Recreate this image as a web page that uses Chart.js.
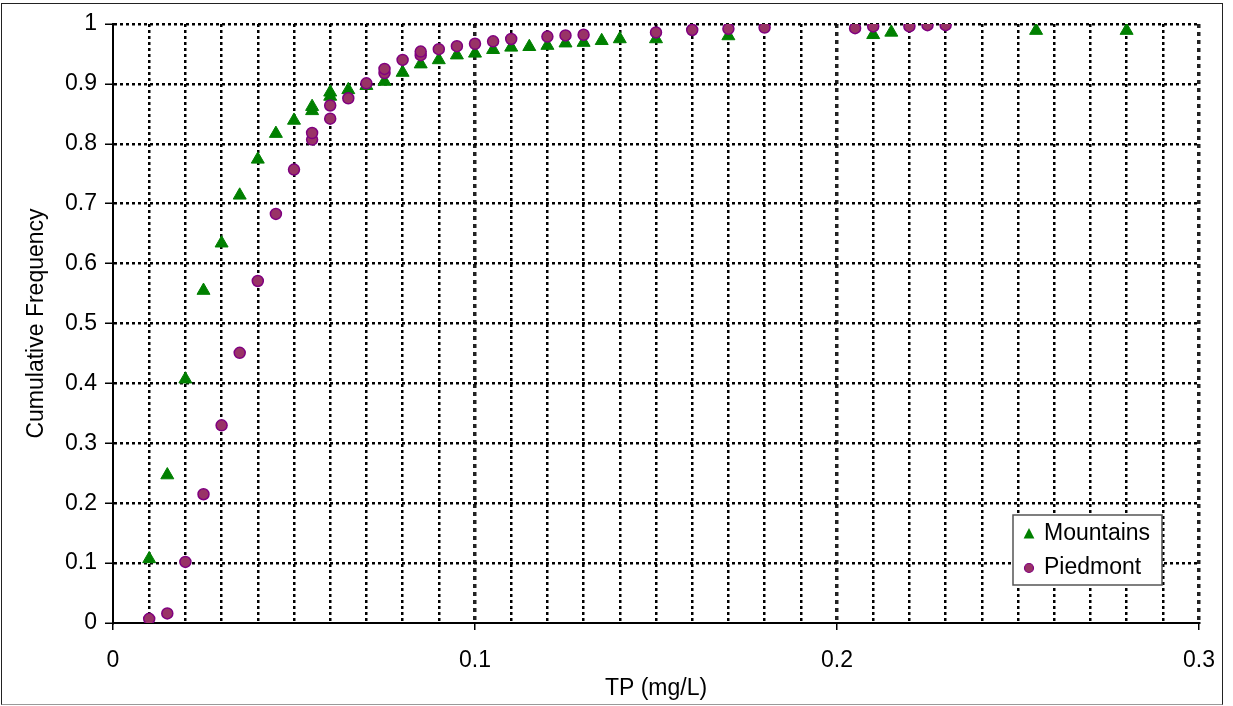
<!DOCTYPE html>
<html>
<head>
<meta charset="utf-8">
<script src="https://cdn.jsdelivr.net/npm/chart.js@4/dist/chart.umd.min.js"></script>
<style>
  body { margin: 0; background: #fff; }
  #wrap { position: relative; width: 1233px; height: 706px; }
  #frame { position: absolute; left: 1px; top: 3px; width: 1220px; height: 700px;
           border: 1px solid #222; border-bottom-color: #999; pointer-events: none; }
</style>
</head>
<body>
<div id="wrap">
  <canvas id="chart" width="1233" height="706"></canvas>
  <div id="frame"></div>
</div>
<script>
// Mountains sites
const mountainsTP = [0.01, 0.015, 0.02, 0.025, 0.03, 0.035, 0.04, 0.045, 0.05, 0.055, 0.055,
  0.06, 0.06, 0.065, 0.07, 0.075, 0.08, 0.085, 0.09, 0.095, 0.1, 0.105, 0.11, 0.115, 0.12,
  0.125, 0.13, 0.135, 0.14, 0.15, 0.17, 0.21, 0.215, 0.255, 0.28];
const mountainsFreq = [0.107, 0.247, 0.407, 0.555, 0.634, 0.714, 0.774, 0.817, 0.839, 0.855, 0.862,
  0.879, 0.886, 0.89, 0.897, 0.904, 0.919, 0.933, 0.94, 0.948, 0.951, 0.957, 0.961, 0.962, 0.964,
  0.968, 0.969, 0.972, 0.975, 0.975, 0.98, 0.982, 0.986, 0.989, 0.989];

// Piedmont sites
const piedmontTP = [0.01, 0.015, 0.02, 0.025, 0.03, 0.035, 0.04, 0.045, 0.05, 0.055, 0.055,
  0.06, 0.06, 0.065, 0.07, 0.075, 0.075, 0.08, 0.085, 0.085, 0.09, 0.095, 0.1, 0.105, 0.11,
  0.12, 0.125, 0.13, 0.15, 0.16, 0.17, 0.18, 0.205, 0.21, 0.22, 0.225, 0.23];
const piedmontFreq = [0.007, 0.016, 0.102, 0.215, 0.33, 0.451, 0.571, 0.683, 0.757, 0.807, 0.818,
  0.842, 0.864, 0.876, 0.901, 0.918, 0.925, 0.94, 0.948, 0.954, 0.958, 0.963, 0.967, 0.971, 0.975,
  0.979, 0.981, 0.982, 0.986, 0.99, 0.992, 0.994, 0.993, 0.996, 0.996, 0.998, 0.998];

const seriesNames = ['Mountains', 'Piedmont'];
const xTitle = 'TP (mg/L)';
const yTitle = 'Cumulative Frequency';

const toPoints = (xs, ys) => xs.map((x, i) => ({ x: x, y: ys[i] }));
const FONT = "'Liberation Sans', Arial, sans-serif";
const FSIZE = 23;

const isMajorX = v => Math.round(v * 100) % 10 === 0;
const tickVal = c => (c.tick ? c.tick.value : 0);

// legend box drawn inside the plot, bottom right
const insideLegend = {
  id: 'insideLegend',
  afterDraw(chart) {
    const { ctx, chartArea } = chart;
    const w = 149, h = 70;
    const x0 = chartArea.right - 37 - w;
    const y0 = chartArea.bottom - 38 - h;
    ctx.save();
    ctx.fillStyle = '#fff';
    ctx.fillRect(x0, y0, w, h);
    ctx.strokeStyle = '#555';
    ctx.lineWidth = 1.5;
    ctx.strokeRect(x0, y0, w, h);

    const rows = [y0 + 19, y0 + 53];
    // triangle
    const tx = x0 + 16, ty = rows[0], r = 6;
    ctx.fillStyle = '#008000';
    ctx.beginPath();
    ctx.moveTo(tx, ty - r);
    ctx.lineTo(tx + r * 0.9, ty + r * 0.75);
    ctx.lineTo(tx - r * 0.9, ty + r * 0.75);
    ctx.closePath();
    ctx.fill();
    // circle
    ctx.fillStyle = '#993366';
    ctx.strokeStyle = '#800080';
    ctx.lineWidth = 1.2;
    ctx.beginPath();
    ctx.arc(x0 + 16, rows[1], 4.5, 0, Math.PI * 2);
    ctx.fill();
    ctx.stroke();

    ctx.fillStyle = '#000';
    ctx.font = FSIZE + 'px ' + FONT;
    ctx.textBaseline = 'middle';
    ctx.textAlign = 'left';
    ctx.fillText(seriesNames[0], x0 + 31, rows[0]);
    ctx.fillText(seriesNames[1], x0 + 31, rows[1]);
    ctx.restore();
  }
};

new Chart(document.getElementById('chart'), {
  type: 'scatter',
  data: {
    datasets: [
      {
        label: seriesNames[0],
        data: toPoints(mountainsTP, mountainsFreq),
        pointStyle: 'triangle',
        pointRadius: 7.5,
        backgroundColor: '#008000',
        borderColor: '#008000',
        borderWidth: 1,
        order: 1
      },
      {
        label: seriesNames[1],
        data: toPoints(piedmontTP, piedmontFreq),
        pointStyle: 'circle',
        pointRadius: 5.5,
        backgroundColor: '#993366',
        borderColor: '#800080',
        borderWidth: 1.5,
        order: 0
      }
    ]
  },
  options: {
    responsive: false,
    animation: false,
    devicePixelRatio: 1,
    layout: { padding: { left: 23, top: 24, right: 34, bottom: 4 } },
    plugins: {
      legend: { display: false },
      tooltip: { enabled: false }
    },
    scales: {
      x: {
        type: 'linear',
        min: 0,
        max: 0.3,
        afterFit: s => { s.height = 79; },
        ticks: {
          stepSize: 0.01,
          autoSkip: false,
          maxRotation: 0,
          padding: 17,
          color: '#000',
          font: { family: FONT, size: FSIZE },
          callback: v => isMajorX(v) ? String(Math.round(v * 100) / 100) : ''
        },
        grid: {
          color: c => tickVal(c) === 0 ? 'rgba(0,0,0,0)' : (isMajorX(tickVal(c)) ? '#222' : '#000'),
          lineWidth: c => isMajorX(tickVal(c)) ? 3.5 : 2.5,
          tickColor: c => isMajorX(tickVal(c)) ? '#000' : 'rgba(0,0,0,0)',
          tickLength: 7,
          tickWidth: 1.5
        },
        border: {
          color: '#000',
          width: 2,
          dash: c => isMajorX(tickVal(c)) ? [4, 4] : [3, 3]
        },
        title: {
          display: true,
          text: xTitle,
          color: '#000',
          font: { family: FONT, size: FSIZE },
          padding: { top: 0, bottom: 0 }
        }
      },
      y: {
        min: 0,
        max: 1,
        afterFit: s => { s.width = 90; },
        ticks: {
          stepSize: 0.1,
          padding: 8,
          color: '#000',
          font: { family: FONT, size: FSIZE },
          callback: v => String(Math.round(v * 10) / 10)
        },
        grid: {
          color: c => tickVal(c) === 0 ? 'rgba(0,0,0,0)' : '#000',
          lineWidth: 2.5,
          tickColor: '#000',
          tickLength: 8,
          tickWidth: 1.5
        },
        border: {
          color: '#000',
          width: 2,
          dash: [3, 3]
        },
        title: {
          display: true,
          text: yTitle,
          color: '#000',
          font: { family: FONT, size: FSIZE },
          padding: { top: 0, bottom: 0 }
        }
      }
    }
  },
  plugins: [insideLegend]
});
</script>
</body>
</html>
